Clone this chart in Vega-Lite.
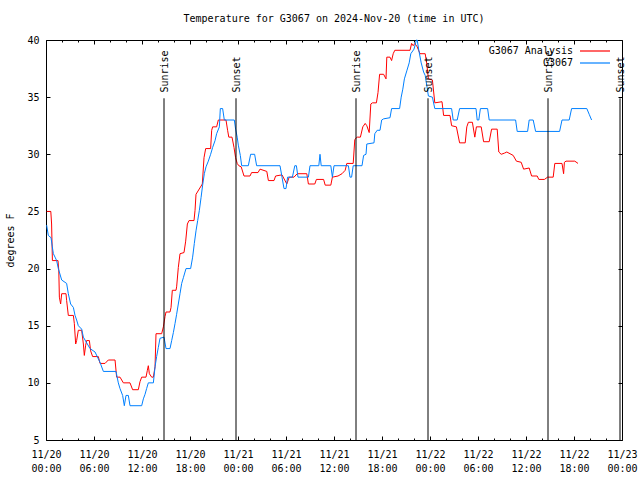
{
  "$schema": "https://vega.github.io/schema/vega-lite/v6.json",
  "autosize": "none",
  "width": 576,
  "height": 400,
  "padding": {"left": 46, "top": 40, "right": 18, "bottom": 40},
  "background": "white",
  "title": {"text": "Temperature for G3067 on 2024-Nov-20 (time in UTC)", "font": "DejaVu Sans Mono", "fontSize": 10, "fontWeight": "normal", "color": "black", "offset": 11, "anchor": "middle"},
  "config": {
    "view": {"stroke": "black", "strokeWidth": 1},
    "font": "DejaVu Sans Mono",
    "axis": {"labelFont": "DejaVu Sans Mono", "labelFontSize": 10, "labelColor": "black", "tickColor": "black", "titleFont": "DejaVu Sans Mono", "titleFontSize": 10, "titleFontWeight": "normal", "titleColor": "black", "grid": false, "domain": false}
  },
  "datasets": {
    "analysis": [
      {"h":0.08,"t":25.0},{"h":0.6,"t":25.0},{"h":0.7,"t":23.9},{"h":0.8,"t":20.7},{"h":1.5,"t":20.7},{"h":1.6,"t":19.8},{"h":1.67,"t":17.5},{"h":1.83,"t":16.9},{"h":1.96,"t":17.8},{"h":2.5,"t":17.8},{"h":2.58,"t":17.2},{"h":2.79,"t":15.9},{"h":3.42,"t":15.9},{"h":3.54,"t":15.2},{"h":3.71,"t":13.4},{"h":3.83,"t":13.7},{"h":4.04,"t":14.6},{"h":4.46,"t":14.6},{"h":4.67,"t":13.4},{"h":4.79,"t":12.4},{"h":4.96,"t":13.3},{"h":5.08,"t":13.7},{"h":5.42,"t":13.7},{"h":5.58,"t":12.8},{"h":5.83,"t":12.3},{"h":6.54,"t":12.3},{"h":6.75,"t":11.7},{"h":7.38,"t":11.7},{"h":7.79,"t":12.0},{"h":8.63,"t":12.0},{"h":8.83,"t":10.5},{"h":9.25,"t":10.5},{"h":9.67,"t":10.0},{"h":10.5,"t":10.0},{"h":10.83,"t":9.4},{"h":11.54,"t":9.4},{"h":11.75,"t":10.1},{"h":11.96,"t":10.5},{"h":12.5,"t":10.5},{"h":12.67,"t":11.1},{"h":12.79,"t":11.5},{"h":12.92,"t":10.8},{"h":13.21,"t":10.5},{"h":13.42,"t":10.5},{"h":13.63,"t":11.4},{"h":13.75,"t":14.3},{"h":14.46,"t":14.3},{"h":14.67,"t":14.9},{"h":14.88,"t":15.8},{"h":15.0,"t":16.2},{"h":15.5,"t":16.2},{"h":15.63,"t":16.6},{"h":15.79,"t":18.1},{"h":16.25,"t":18.1},{"h":16.33,"t":18.4},{"h":16.54,"t":20.1},{"h":16.75,"t":21.3},{"h":17.25,"t":21.4},{"h":17.46,"t":22.4},{"h":17.67,"t":23.9},{"h":17.88,"t":24.2},{"h":18.5,"t":24.2},{"h":18.63,"t":25.1},{"h":18.75,"t":26.5},{"h":19.54,"t":27.4},{"h":19.75,"t":29.7},{"h":19.96,"t":30.5},{"h":20.58,"t":30.5},{"h":20.71,"t":32.1},{"h":20.83,"t":32.4},{"h":21.33,"t":32.4},{"h":21.54,"t":33.0},{"h":22.5,"t":33.0},{"h":22.7,"t":32.1},{"h":22.85,"t":31.5},{"h":23.25,"t":31.5},{"h":23.5,"t":30.6},{"h":23.7,"t":29.7},{"h":23.9,"t":29.2},{"h":24.1,"t":29.0},{"h":24.4,"t":28.9},{"h":24.75,"t":28.1},{"h":25.5,"t":28.1},{"h":25.7,"t":28.4},{"h":26.5,"t":28.4},{"h":26.75,"t":28.7},{"h":27.6,"t":28.5},{"h":27.8,"t":27.7},{"h":28.5,"t":27.7},{"h":28.7,"t":28.1},{"h":29.5,"t":28.2},{"h":30.1,"t":27.4},{"h":30.4,"t":28.0},{"h":31.0,"t":28.0},{"h":31.4,"t":28.3},{"h":32.6,"t":28.3},{"h":32.8,"t":27.4},{"h":33.6,"t":27.4},{"h":33.8,"t":27.8},{"h":34.7,"t":27.8},{"h":34.9,"t":27.3},{"h":35.6,"t":27.3},{"h":35.8,"t":28.0},{"h":36.5,"t":28.1},{"h":37.0,"t":28.3},{"h":37.4,"t":28.6},{"h":37.6,"t":29.2},{"h":38.4,"t":29.2},{"h":38.6,"t":31.3},{"h":38.9,"t":31.5},{"h":39.3,"t":31.5},{"h":39.6,"t":32.4},{"h":39.9,"t":32.7},{"h":40.1,"t":32.5},{"h":40.4,"t":31.9},{"h":40.6,"t":34.4},{"h":40.8,"t":34.5},{"h":41.3,"t":34.5},{"h":41.5,"t":35.4},{"h":41.7,"t":37.0},{"h":42.2,"t":37.0},{"h":42.5,"t":36.6},{"h":42.6,"t":38.5},{"h":43.0,"t":38.5},{"h":43.2,"t":38.2},{"h":43.4,"t":38.8},{"h":43.6,"t":39.1},{"h":45.5,"t":39.1},{"h":45.7,"t":39.7},{"h":45.9,"t":39.5},{"h":46.1,"t":39.7},{"h":46.4,"t":39.4},{"h":46.75,"t":38.8},{"h":47.4,"t":38.8},{"h":47.6,"t":37.9},{"h":47.8,"t":36.6},{"h":48.3,"t":36.5},{"h":48.6,"t":34.5},{"h":49.5,"t":34.6},{"h":49.7,"t":33.4},{"h":50.5,"t":33.4},{"h":50.7,"t":32.5},{"h":51.3,"t":32.4},{"h":51.7,"t":31.0},{"h":52.4,"t":31.0},{"h":52.6,"t":32.4},{"h":52.8,"t":32.8},{"h":53.3,"t":32.8},{"h":53.6,"t":31.5},{"h":53.8,"t":32.4},{"h":54.4,"t":32.4},{"h":54.7,"t":31.1},{"h":55.4,"t":31.1},{"h":55.7,"t":32.2},{"h":56.4,"t":32.2},{"h":56.6,"t":30.2},{"h":56.9,"t":30.0},{"h":57.3,"t":30.1},{"h":57.6,"t":30.2},{"h":58.4,"t":29.9},{"h":58.8,"t":29.4},{"h":59.4,"t":29.3},{"h":59.7,"t":28.7},{"h":60.4,"t":28.8},{"h":60.7,"t":28.1},{"h":61.4,"t":28.1},{"h":61.6,"t":27.8},{"h":62.3,"t":27.8},{"h":62.7,"t":28.0},{"h":63.4,"t":28.0},{"h":63.6,"t":29.2},{"h":64.5,"t":29.2},{"h":64.7,"t":28.3},{"h":64.8,"t":29.3},{"h":65.0,"t":29.4},{"h":66.1,"t":29.4},{"h":66.5,"t":29.2}
    ],
    "obs": [
      {"h":0.08,"t":23.8},{"h":0.29,"t":22.9},{"h":0.63,"t":22.7},{"h":0.79,"t":21.9},{"h":0.92,"t":21.3},{"h":1.13,"t":21.0},{"h":1.33,"t":20.7},{"h":1.54,"t":20.0},{"h":1.96,"t":19.0},{"h":2.58,"t":18.7},{"h":2.79,"t":17.8},{"h":3.08,"t":16.9},{"h":3.42,"t":16.6},{"h":3.63,"t":15.9},{"h":3.83,"t":15.5},{"h":4.04,"t":15.0},{"h":4.46,"t":14.7},{"h":4.67,"t":14.0},{"h":5.5,"t":13.0},{"h":6.13,"t":12.7},{"h":6.54,"t":12.1},{"h":6.75,"t":11.8},{"h":7.17,"t":11.0},{"h":8.75,"t":11.0},{"h":9.04,"t":10.0},{"h":9.25,"t":9.5},{"h":9.58,"t":8.9},{"h":9.79,"t":8.0},{"h":10.0,"t":8.9},{"h":10.29,"t":8.9},{"h":10.5,"t":8.0},{"h":11.96,"t":8.0},{"h":12.17,"t":8.6},{"h":12.38,"t":9.0},{"h":12.58,"t":9.5},{"h":12.79,"t":10.0},{"h":13.42,"t":10.0},{"h":13.63,"t":11.4},{"h":13.83,"t":12.3},{"h":14.04,"t":13.1},{"h":14.25,"t":13.9},{"h":14.75,"t":14.0},{"h":15.0,"t":13.0},{"h":15.5,"t":13.0},{"h":15.71,"t":13.7},{"h":15.92,"t":14.4},{"h":16.13,"t":15.2},{"h":16.33,"t":16.0},{"h":16.54,"t":16.9},{"h":16.75,"t":17.8},{"h":16.96,"t":18.7},{"h":17.17,"t":19.2},{"h":17.5,"t":20.0},{"h":18.08,"t":20.0},{"h":18.33,"t":21.0},{"h":18.54,"t":22.2},{"h":18.75,"t":23.3},{"h":18.96,"t":24.2},{"h":19.17,"t":25.1},{"h":19.38,"t":26.2},{"h":19.58,"t":27.3},{"h":19.79,"t":28.3},{"h":20.0,"t":28.9},{"h":20.29,"t":29.4},{"h":20.58,"t":30.0},{"h":20.83,"t":30.6},{"h":21.13,"t":31.2},{"h":21.33,"t":31.8},{"h":21.67,"t":32.4},{"h":21.79,"t":34.0},{"h":22.08,"t":34.0},{"h":22.29,"t":33.0},{"h":23.54,"t":33.0},{"h":23.7,"t":32.2},{"h":23.9,"t":31.5},{"h":24.04,"t":30.8},{"h":24.29,"t":29.9},{"h":24.46,"t":29.0},{"h":25.29,"t":29.0},{"h":25.58,"t":30.0},{"h":26.08,"t":30.0},{"h":26.33,"t":29.0},{"h":29.25,"t":29.0},{"h":29.5,"t":28.0},{"h":29.75,"t":27.0},{"h":30.0,"t":27.0},{"h":30.2,"t":28.0},{"h":30.8,"t":28.0},{"h":31.1,"t":29.0},{"h":31.3,"t":29.0},{"h":31.5,"t":28.0},{"h":32.8,"t":28.0},{"h":33.0,"t":29.0},{"h":34.1,"t":29.0},{"h":34.25,"t":30.0},{"h":34.4,"t":29.0},{"h":35.6,"t":29.0},{"h":35.8,"t":28.0},{"h":36.0,"t":29.0},{"h":37.8,"t":29.0},{"h":38.0,"t":28.0},{"h":38.2,"t":28.0},{"h":38.4,"t":29.0},{"h":39.5,"t":29.0},{"h":39.7,"t":29.9},{"h":40.0,"t":30.0},{"h":40.1,"t":30.9},{"h":41.0,"t":31.0},{"h":41.1,"t":31.8},{"h":41.4,"t":32.1},{"h":41.75,"t":32.1},{"h":41.96,"t":33.0},{"h":42.2,"t":33.1},{"h":43.0,"t":33.2},{"h":43.2,"t":34.0},{"h":44.2,"t":34.0},{"h":44.4,"t":35.0},{"h":44.6,"t":35.7},{"h":44.8,"t":36.6},{"h":45.1,"t":37.3},{"h":45.4,"t":38.0},{"h":45.6,"t":38.8},{"h":46.0,"t":39.2},{"h":46.3,"t":40.0},{"h":46.4,"t":40.0},{"h":46.6,"t":39.1},{"h":46.9,"t":38.0},{"h":47.2,"t":37.2},{"h":47.4,"t":36.9},{"h":47.6,"t":36.0},{"h":47.8,"t":35.1},{"h":48.3,"t":35.0},{"h":48.6,"t":34.0},{"h":50.7,"t":34.0},{"h":50.9,"t":33.0},{"h":51.4,"t":33.0},{"h":51.7,"t":34.0},{"h":53.75,"t":34.0},{"h":53.9,"t":33.0},{"h":54.1,"t":33.0},{"h":54.3,"t":34.0},{"h":55.2,"t":34.0},{"h":55.4,"t":33.0},{"h":58.7,"t":33.0},{"h":58.9,"t":32.0},{"h":60.2,"t":32.0},{"h":60.4,"t":33.0},{"h":60.9,"t":33.0},{"h":61.2,"t":32.0},{"h":64.2,"t":32.0},{"h":64.5,"t":33.0},{"h":65.4,"t":33.0},{"h":65.7,"t":34.0},{"h":67.6,"t":34.0},{"h":67.9,"t":33.5},{"h":68.2,"t":33.0}
    ],
    "events": [
      {"h":14.75,"label":"Sunrise"},{"h":23.75,"label":"Sunset"},{"h":38.75,"label":"Sunrise"},{"h":47.75,"label":"Sunset"},{"h":62.75,"label":"Sunrise"},{"h":71.75,"label":"Sunset"}
    ]
  },
  "layer": [
    {
      "data": {"name": "analysis"},
      "mark": {"type": "line", "strokeWidth": 1, "interpolate": "linear"},
      "encoding": {
        "x": {"field": "h", "type": "quantitative", "scale": {"domain": [0, 72], "nice": false, "zero": false},
              "axis": {"orient": "bottom", "title": null, "values": [0,2,4,6,8,10,12,14,16,18,20,22,24,26,28,30,32,34,36,38,40,42,44,46,48,50,52,54,56,58,60,62,64,66,68,70,72],
                       "tickSize": {"condition": {"test": "datum.value % 6 === 0", "value": -4}, "value": -2},
                       "labelExpr": "datum.value % 6 === 0 ? ['11/' + (20 + floor(datum.value / 24)), (datum.value % 24 < 10 ? '0' : '') + (datum.value % 24) + ':00'] : ''",
                       "labelPadding": 13, "labelLineHeight": 14, "labelBaseline": "top", "labelOverlap": false, "labelFlush": false, "labelBound": false}},
        "y": {"field": "t", "type": "quantitative", "scale": {"domain": [5, 40], "nice": false, "zero": false},
              "axis": {"orient": "left", "title": "degrees F", "values": [5,10,15,20,25,30,35,40], "tickSize": -4, "labelPadding": 11, "titlePadding": 11, "labelFlush": false}},
        "color": {"datum": "G3067 Analysis", "type": "nominal",
                  "scale": {"domain": ["G3067 Analysis", "G3067"], "range": ["#ff0000", "#0080ff"]},
                  "legend": {"title": null, "orient": "top-right", "offset": 4, "padding": 0, "symbolType": "M-2.5,0H2.5M3.3,0", "symbolSize": 144, "symbolStrokeWidth": 1.2, "labelAlign": "right", "labelOffset": -29, "labelFont": "DejaVu Sans Mono", "labelFontSize": 10, "labelColor": "black", "rowPadding": 0, "labelLimit": 300}}
      }
    },
    {
      "data": {"name": "obs"},
      "mark": {"type": "line", "strokeWidth": 1, "interpolate": "linear"},
      "encoding": {
        "x": {"field": "h", "type": "quantitative", "axis": null},
        "y": {"field": "t", "type": "quantitative", "axis": null},
        "color": {"datum": "G3067", "type": "nominal"}
      }
    },
    {
      "data": {"name": "events"},
      "mark": {"type": "rule", "color": "black", "strokeWidth": 1},
      "encoding": {
        "x": {"field": "h", "type": "quantitative",
              "axis": {"orient": "top", "title": null, "labels": false, "values": [0,2,4,6,8,10,12,14,16,18,20,22,24,26,28,30,32,34,36,38,40,42,44,46,48,50,52,54,56,58,60,62,64,66,68,70,72],
                       "tickSize": {"condition": {"test": "datum.value % 6 === 0", "value": -4}, "value": -2}}},
        "y": {"datum": 34.9, "type": "quantitative",
              "axis": {"orient": "right", "title": null, "labels": false, "values": [5,10,15,20,25,30,35,40], "tickSize": -4}},
        "y2": {"datum": 5}
      }
    },
    {
      "data": {"name": "events"},
      "mark": {"type": "text", "angle": 270, "align": "left", "baseline": "middle", "font": "DejaVu Sans Mono", "fontSize": 10, "color": "black", "dy": 1},
      "encoding": {
        "x": {"field": "h", "type": "quantitative", "axis": null},
        "y": {"datum": 35.4, "type": "quantitative", "axis": null},
        "text": {"field": "label"}
      }
    }
  ],
  "resolve": {"axis": {"x": "independent", "y": "independent"}}
}
